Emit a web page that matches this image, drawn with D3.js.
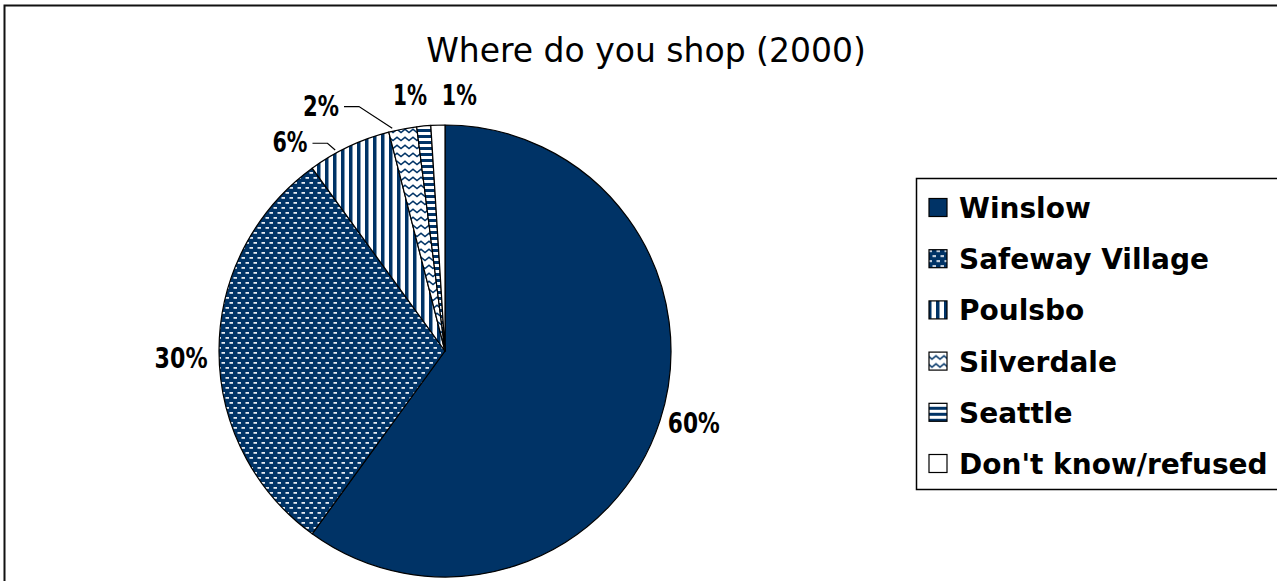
<!DOCTYPE html>
<html>
<head>
<meta charset="utf-8">
<script src="https://cdn.jsdelivr.net/npm/d3@7"></script>
<style>
  html, body { margin: 0; padding: 0; background: #fff; }
  svg { display: block; }
</style>
</head>
<body>
<svg id="chart" width="1277" height="581"></svg>
<script>
// Survey answers: where residents shop (2000), in percent
const categories = ["Winslow", "Safeway Village", "Poulsbo", "Silverdale", "Seattle", "Don't know/refused"];
const shares = [60, 30, 6, 2, 1, 1];
const pctLabels = ["60%", "30%", "6%", "2%", "1%", "1%"];
const chartTitle = "Where do you shop (2000)";

const W = 1277, H = 581;
const NAVY = "#003366";
const svg = d3.select("#chart");

// ---- fill patterns ----
const defs = svg.append("defs");

function pattern(id, w, h) {
  return defs.append("pattern").attr("id", id)
    .attr("patternUnits", "userSpaceOnUse").attr("width", w).attr("height", h);
}
// solid navy
// dotted brick (Safeway Village)
const pBrick = pattern("p-brick", 8, 10);
pBrick.append("rect").attr("width", 8).attr("height", 10).attr("fill", NAVY);
pBrick.append("rect").attr("x", 0.5).attr("y", 1).attr("width", 3.5).attr("height", 1.8).attr("fill", "#e6ebf2");
pBrick.append("rect").attr("x", 4.5).attr("y", 6).attr("width", 3.5).attr("height", 1.8).attr("fill", "#e6ebf2");
// vertical stripes (Poulsbo)
const pVert = pattern("p-vert", 8, 8);
pVert.append("rect").attr("width", 8).attr("height", 8).attr("fill", "#fff");
pVert.append("rect").attr("width", 3.5).attr("height", 8).attr("fill", NAVY);
// zigzag (Silverdale)
const pZig = pattern("p-zig", 8, 8);
pZig.append("rect").attr("width", 8).attr("height", 8).attr("fill", "#fff");
pZig.append("path").attr("d", "M-1,1.5 L4,5.5 L9,1.5").attr("fill", "none")
  .attr("stroke", NAVY).attr("stroke-width", 1.6);
// horizontal stripes (Seattle)
const pHorz = pattern("p-horz", 6, 6);
pHorz.append("rect").attr("width", 6).attr("height", 6).attr("fill", "#fff");
pHorz.append("rect").attr("width", 6).attr("height", 3).attr("fill", NAVY);

const fills = [NAVY, "url(#p-brick)", "url(#p-vert)", "url(#p-zig)", "url(#p-horz)", "#ffffff"];

// ---- outer frame ----
svg.append("rect").attr("x", 4.5).attr("y", 5.5).attr("width", W + 20).attr("height", H + 20)
  .attr("fill", "#fff").attr("stroke", "#111").attr("stroke-width", 2);

// ---- title ----
svg.append("text").attr("x", 646).attr("y", 62)
  .attr("text-anchor", "middle")
  .attr("font-family", "DejaVu Sans, sans-serif").attr("font-size", 33)
  .attr("fill", "#000")
  .text(chartTitle);

// ---- pie ----
const cx = 445, cy = 351, R = 226;
const g = svg.append("g").attr("transform", `translate(${cx},${cy})`);

const pie = d3.pie().sort(null).value(d => d)(shares);
const arc = d3.arc().innerRadius(0).outerRadius(R);

g.selectAll("path.slice").data(pie).join("path")
  .attr("class", "slice")
  .attr("d", arc)
  .attr("fill", (d, i) => fills[i])
  .attr("stroke", "#000").attr("stroke-width", 1.2).attr("stroke-linejoin", "round");

// ---- value labels (polar placement, degrees clockwise from 12 o'clock) ----
const labelAngle = [106.1, 268.5, 323.4, 333.2, 352.2, 3.2];
const labelRadius = [259, 264, 260, 275, 258, 256];
const labelWidth = [52, 53, 35, 36, 34, 35];
const rad = a => a * Math.PI / 180;
const polar = (a, r) => [Math.sin(rad(a)) * r, -Math.cos(rad(a)) * r];

g.selectAll("text.pct").data(pie).join("text")
  .attr("class", "pct")
  .attr("x", (d, i) => polar(labelAngle[i], labelRadius[i])[0])
  .attr("y", (d, i) => polar(labelAngle[i], labelRadius[i])[1] + 10)
  .attr("text-anchor", "middle")
  .attr("font-family", "DejaVu Sans, sans-serif").attr("font-weight", "bold")
  .attr("font-size", 28)
  .attr("textLength", (d, i) => labelWidth[i])
  .attr("lengthAdjust", "spacingAndGlyphs")
  .attr("fill", "#000")
  .text((d, i) => pctLabels[i]);

// ---- leader lines for the two crowded slices ----
const leaders = [
  { i: 2, frac: 0.34 },
  { i: 3, frac: 0.15 }
];
leaders.forEach(({ i, frac }) => {
  const d = pie[i];
  const [lx, ly] = polar(labelAngle[i], labelRadius[i]);
  const sx = lx + labelWidth[i] / 2 + 5, sy = ly + 1;
  const a = d.startAngle + (d.endAngle - d.startAngle) * frac;
  const ex = Math.sin(a) * (R + 3), ey = -Math.cos(a) * (R + 3);
  g.append("path")
    .attr("d", `M${sx},${sy} L${sx + 15},${sy} L${ex},${ey}`)
    .attr("fill", "none").attr("stroke", "#000").attr("stroke-width", 1.2);
});

// ---- legend ----
const legX = 916, legY = 178, legH = 311;
svg.append("rect").attr("x", legX + 0.5).attr("y", legY + 0.5)
  .attr("width", W).attr("height", legH)
  .attr("fill", "#fff").attr("stroke", "#000").attr("stroke-width", 1.5);

const rowY = d3.scalePoint().domain(categories).range([208, 464]);
const leg = svg.append("g");
const rows = leg.selectAll("g").data(categories).join("g")
  .attr("transform", d => `translate(0,${rowY(d)})`);
rows.append("rect")
  .attr("x", 929).attr("y", -9.5).attr("width", 18).attr("height", 18)
  .attr("fill", (d, i) => fills[i])
  .attr("stroke", "#000").attr("stroke-width", 1.2);
rows.append("text")
  .attr("x", 959).attr("y", 10)
  .attr("font-family", "DejaVu Sans, sans-serif").attr("font-weight", "bold")
  .attr("font-size", 28).attr("fill", "#000")
  .text(d => d);
</script>
</body>
</html>
